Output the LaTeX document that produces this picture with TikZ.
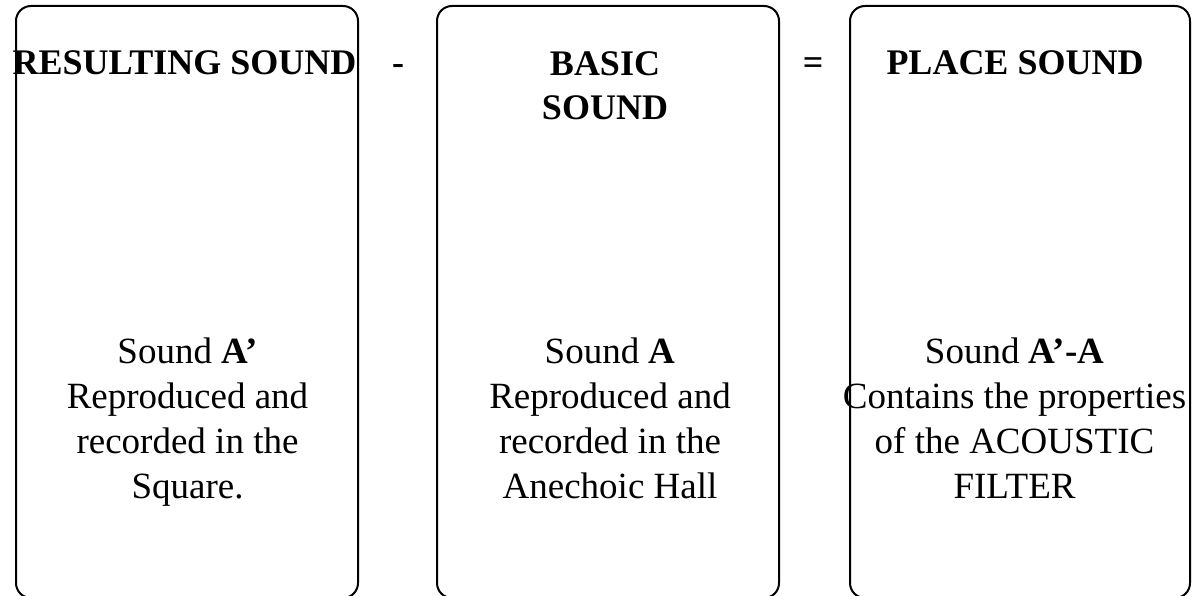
\documentclass[tikz,border=0pt]{standalone}
\usepackage{fontspec}
\setmainfont{Liberation Serif}
\begin{document}
\begin{tikzpicture}[x=1pt,y=-1pt,
  panel/.style={draw=black,line width=2pt,rounded corners=15pt,minimum height=592pt,inner sep=0pt,outer sep=0pt},
  headtext/.style={anchor=base,inner sep=0pt,font=\fontsize{36}{44}\selectfont\bfseries,align=center},
  optext/.style={anchor=base,inner sep=0pt,font=\fontsize{36}{44}\selectfont\bfseries},
  bodytext/.style={anchor=base,inner sep=0pt,font=\fontsize{37}{45}\selectfont,align=center}]
\useasboundingbox (0,0) rectangle (1193,596);
\clip (0,0) rectangle (1193,596);
\node[panel,minimum width=342pt] (box1) at (187,302) {};
\node[panel,minimum width=342pt] (box2) at (608,302) {};
\node[panel,minimum width=340pt] (box3) at (1020,302) {};
\node[headtext] (h1) at (184.5,75) {RESULTING SOUND};
\node[optext] (minus) at (398,75) {-};
\node[headtext] (h2) at (605,120) {BASIC\\SOUND};
\node[optext] (equals) at (813,75) {=};
\node[headtext] (h3) at (1015,75) {PLACE SOUND};
\node[bodytext] (b1) at (187.5,498) {Sound \textbf{A’}\\Reproduced and\\recorded in the\\Square.};
\node[bodytext] (b2) at (610,498) {Sound \textbf{A}\\Reproduced and\\recorded in the\\Anechoic Hall};
\node[bodytext] (b3) at (1014.5,498) {Sound \textbf{A’-A}\\Contains the properties\\of the ACOUSTIC\\FILTER};
\end{tikzpicture}
\end{document}
